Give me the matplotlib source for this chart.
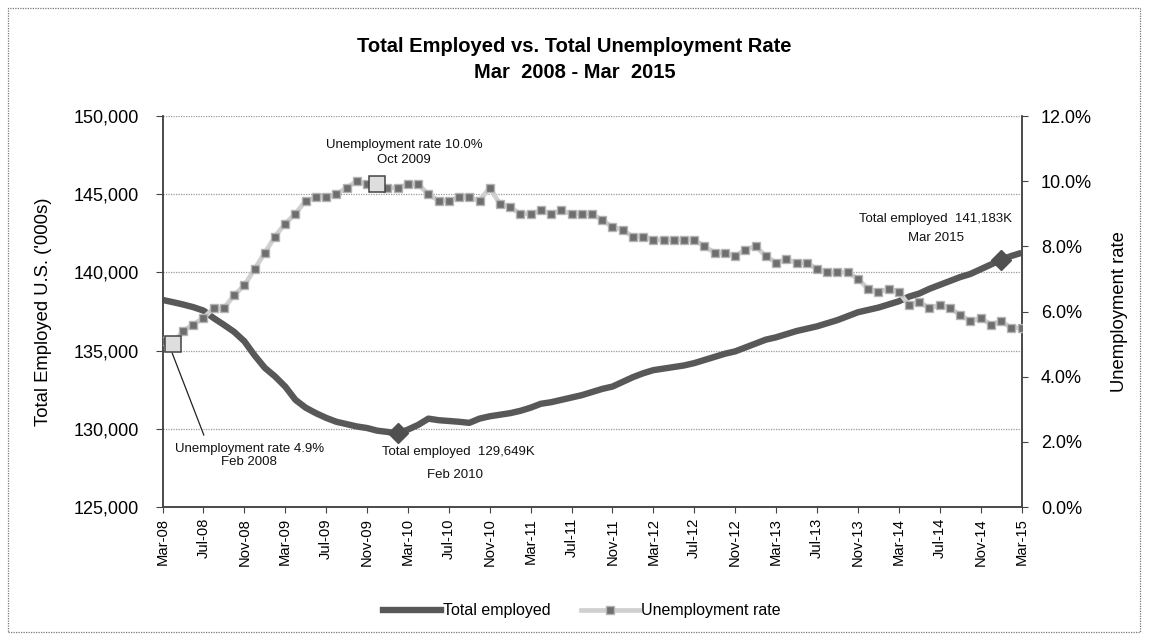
import matplotlib
matplotlib.use("Agg")
import matplotlib.pyplot as plt
from matplotlib.lines import Line2D
from matplotlib.patches import Rectangle
from matplotlib.ticker import FuncFormatter, FixedLocator
import numpy as np

# monthly values, Mar 2008 .. Mar 2015
employed = [
    138240, 138100, 137950, 137780, 137560, 137080, 136650, 136200, 135600, 134700,
    133900, 133350, 132700, 131850, 131350, 131000, 130700, 130450, 130300, 130150,
    130050, 129880, 129800, 129700, 129950, 130250, 130650, 130550, 130500, 130450,
    130380, 130650, 130800, 130900, 131000, 131150, 131350, 131600, 131700, 131850,
    132000, 132150, 132350, 132550, 132700, 133000, 133300, 133550, 133750, 133850,
    133950, 134050, 134200, 134400, 134600, 134800, 134950, 135200, 135450, 135700,
    135850, 136050, 136250, 136400, 136550, 136750, 136950, 137200, 137450, 137600,
    137750, 137950, 138150, 138450, 138650, 138950, 139200, 139450, 139700, 139900,
    140200, 140500, 140800, 141050, 141250,
]
unemp_rate = [
    5.1, 5.0, 5.4, 5.6, 5.8, 6.1, 6.1, 6.5, 6.8, 7.3,
    7.8, 8.3, 8.7, 9.0, 9.4, 9.5, 9.5, 9.6, 9.8, 10.0,
    9.9, 9.9, 9.8, 9.8, 9.9, 9.9, 9.6, 9.4, 9.4, 9.5,
    9.5, 9.4, 9.8, 9.3, 9.2, 9.0, 9.0, 9.1, 9.0, 9.1,
    9.0, 9.0, 9.0, 8.8, 8.6, 8.5, 8.3, 8.3, 8.2, 8.2,
    8.2, 8.2, 8.2, 8.0, 7.8, 7.8, 7.7, 7.9, 8.0, 7.7,
    7.5, 7.6, 7.5, 7.5, 7.3, 7.2, 7.2, 7.2, 7.0, 6.7,
    6.6, 6.7, 6.6, 6.2, 6.3, 6.1, 6.2, 6.1, 5.9, 5.7,
    5.8, 5.6, 5.7, 5.5, 5.5,
]
tick_labels = [
    "Mar-08", "Jul-08", "Nov-08", "Mar-09", "Jul-09", "Nov-09", "Mar-10", "Jul-10",
    "Nov-10", "Mar-11", "Jul-11", "Nov-11", "Mar-12", "Jul-12", "Nov-12", "Mar-13",
    "Jul-13", "Nov-13", "Mar-14", "Jul-14", "Nov-14", "Mar-15",
]
emp_highlight = [23, 82]     # month indices marked with diamonds
rate_highlight = [1, 21]     # month indices marked with big squares

plt.rcParams["font.family"] = ["Liberation Sans", "DejaVu Sans"]

months = np.arange(len(employed))
emp = np.array(employed)
rate = np.array(unemp_rate)

fig = plt.figure(figsize=(11.49, 6.4), dpi=100)
ax = fig.add_axes([162.5 / 1149, 1 - 507 / 640, (1021.5 - 162.5) / 1149, (507 - 116) / 640])
ax2 = ax.twinx()

# employment (left axis)
ax.plot(months, emp, color="#585858", linewidth=4.6, solid_capstyle="butt", zorder=3)
ax.plot(months[emp_highlight], emp[emp_highlight], linestyle="none", marker="D",
        markersize=10, color="#505050", zorder=4)

# unemployment rate (right axis)
ax2.plot(months, rate, color="#d0d0d0", linewidth=3.4, marker="s", markersize=6,
         markerfacecolor="#6e6e6e", markeredgecolor="#b4b4b4", markeredgewidth=1, zorder=3)
ax2.plot(months[rate_highlight], rate[rate_highlight], linestyle="none", marker="s",
         markersize=12, markerfacecolor="#dedede", markeredgecolor="#444444",
         markeredgewidth=1.1, zorder=4)

ax.set_xlim(0, 84)
ax.set_ylim(125000, 150000)
ax2.set_ylim(0, 12)
ax.set_yticks(np.arange(125000, 150001, 5000))
ax2.set_yticks(np.arange(0, 12.01, 2))
ax.yaxis.set_major_formatter(FuncFormatter(lambda v, p: f"{v:,.0f}"))
ax2.yaxis.set_major_formatter(FuncFormatter(lambda v, p: f"{v:.1f}%"))
ax.xaxis.set_major_locator(FixedLocator(np.arange(0, 85, 4)))
ax.set_xticklabels(tick_labels, rotation=90, fontsize=10.6)

ax.grid(axis="y", linestyle=(0, (1, 1)), color="#9a9a9a", linewidth=0.9)
ax.set_axisbelow(True)

for a in (ax, ax2):
    a.spines["top"].set_visible(False)
    for s in ("left", "right", "bottom"):
        a.spines[s].set_color("#444444")
        a.spines[s].set_linewidth(1.1)
ax.tick_params(axis="y", labelsize=13, length=5, color="#444444", pad=12)
ax.tick_params(axis="x", length=4, color="#444444", pad=4)
ax2.tick_params(axis="y", labelsize=13, length=4, color="#444444", pad=10)

ax.set_ylabel("Total Employed U.S. ('000s)", fontsize=13.3)
ax.yaxis.set_label_coords(-0.1287, 0.5)
ax2.set_ylabel("Unemployment rate", fontsize=13.3)
ax2.yaxis.set_label_coords(1.1037, 0.5)

# annotations
ann = dict(fontsize=9.5, ha="center", va="center", color="#111111")
ax2.text(23.6, 10.88, "Unemployment rate 10.0%\nOct 2009", linespacing=1.35, **ann)
ax2.text(8.5, 1.58, "Unemployment rate 4.9%\nFeb 2008", linespacing=1.2, **ann)
ax2.plot([0.95, 4.04], [4.72, 2.21], color="#222222", linewidth=0.9)
ax2.text(28.9, 1.69, "Total employed  129,649K", **ann)
ax2.text(28.6, 0.98, "Feb 2010", **ann)
ax2.text(75.6, 8.84, "Total employed  141,183K", **ann)
ax2.text(75.6, 8.26, "Mar 2015", **ann)

# title
fig.text(0.5, 1 - 46 / 640, "Total Employed vs. Total Unemployment Rate",
         ha="center", va="center", fontsize=14.5, fontweight="bold")
fig.text(0.5, 1 - 72 / 640, "Mar  2008 - Mar  2015",
         ha="center", va="center", fontsize=14.5, fontweight="bold")

# legend
handles = [
    Line2D([], [], color="#585858", linewidth=4.6),
    Line2D([], [], color="#d0d0d0", linewidth=3.4, marker="s", markersize=6,
           markerfacecolor="#6e6e6e", markeredgecolor="#b4b4b4"),
]
fig.legend(handles, ["Total employed", "Unemployment rate"], loc="center",
           bbox_to_anchor=(582 / 1149, 1 - 611 / 640), ncol=2, frameon=False,
           fontsize=11.5, handlelength=3.6, handletextpad=0.15, columnspacing=1.9,
           numpoints=1)

# outer chart border
fig.add_artist(Rectangle((8 / 1149, 8 / 640), 1132 / 1149, 624 / 640,
                         transform=fig.transFigure, fill=False,
                         edgecolor="#777777", linewidth=0.9, linestyle=(0, (1, 1))))

fig.savefig("out.png", dpi=100)
